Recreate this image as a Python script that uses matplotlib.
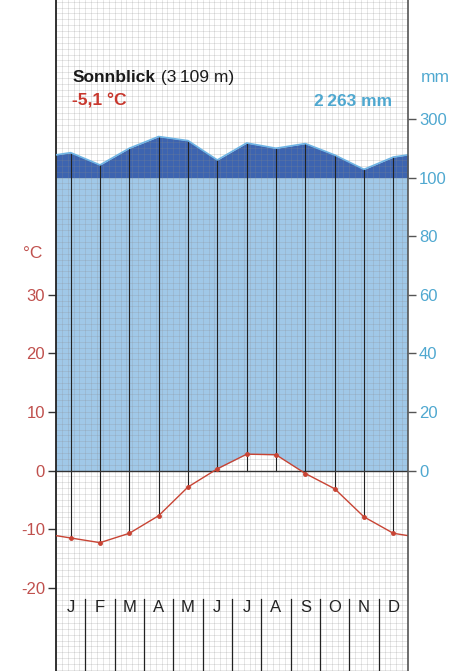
import numpy as np
import matplotlib.pyplot as plt

plt.rcParams['font.family'] = ['Liberation Sans', 'DejaVu Sans']

# Klimadaten Sonnblick
monate = ['J', 'F', 'M', 'A', 'M', 'J', 'J', 'A', 'S', 'O', 'N', 'D']
temperatur = [-11.5, -12.3, -10.7, -7.7, -2.8, 0.3, 2.8, 2.7, -0.5, -3.1, -7.9, -10.7]
niederschlag = [185, 143, 200, 240, 226, 160, 218, 200, 216, 177, 128, 170]
temp_ticks = [-20, -10, 0, 10, 20, 30]
mm_ticks = [0, 20, 40, 60, 80, 100, 300]

ROT = '#c8372d'
ROT_HELL = '#c0504d'
BLAU = '#4fa8d0'
HELLBLAU = '#a0c8e8'
DUNKELBLAU = '#3d64b0'


def skala_mm(p):
    # bis 100 mm: 20 mm = 10 °C, darüber 1/10
    p = np.asarray(p, dtype=float)
    return np.where(p <= 100, p / 2, 50 + (p - 100) / 20)


x = np.arange(12) + 0.5
x_ext = np.concatenate([[0], x, [12]])
t = np.array(temperatur)
t_ext = np.concatenate([[(t[0] + t[-1]) / 2], t, [(t[0] + t[-1]) / 2]])
p = np.array(niederschlag, dtype=float)
p_ext = np.concatenate([[(p[0] + p[-1]) / 2], p, [(p[0] + p[-1]) / 2]])
ps_ext = skala_mm(p_ext)
ps = skala_mm(p)

fig = plt.figure(figsize=(4.58, 6.71), dpi=100)
ax = fig.add_axes([56 / 458, 0, 352 / 458, 1])
ax.set_xlim(0, 12)
ax.set_ylim(-34.2, 80.3)

# Flächen
ax.fill_between(x_ext, 0, np.minimum(ps_ext, 50), color=HELLBLAU, lw=0, zorder=1)
ax.fill_between(x_ext, 50, ps_ext, where=ps_ext > 50, interpolate=True,
                color=DUNKELBLAU, lw=0, zorder=1)
ax.fill_between(x_ext, 0, t_ext, where=t_ext > 0, interpolate=True,
                color='white', lw=0, zorder=1.5)

# feines Raster
for gx in np.arange(0, 12.01, 0.2):
    ax.axvline(gx, color='#8a8a8a', lw=0.5, alpha=0.3, zorder=2)
for gy in np.arange(-34, 81, 1):
    ax.axhline(gy, color='#8a8a8a', lw=0.5, alpha=0.3, zorder=2)

# Monatslinien
for xi, ti, pi in zip(x, t, ps):
    ax.plot([xi, xi], [min(ti, 0), pi], color='#222222', lw=0.8, zorder=3)

ax.plot(x_ext, ps_ext, color='#6fb4e4', lw=1.2, zorder=4)
ax.axhline(0, color='#333333', lw=1, zorder=4)
ax.plot(x_ext, t_ext, color='#c84434', lw=1, zorder=5)
ax.plot(x, t, 'o', color='#c84434', ms=2.5, zorder=5)

# Monatsbeschriftung
for xi, m in zip(x, monate):
    ax.text(xi, -23.3, m, ha='center', va='center', fontsize=12, color='#222222', zorder=6)
for b in range(1, 12):
    ax.plot([b, b], [-21.9, -34.2], color='#222222', lw=0.9, zorder=6)

# Achsen
ax.set_xticks([])
ax.set_yticks(temp_ticks)
ax.set_yticklabels([str(v) for v in temp_ticks], color=ROT_HELL, fontsize=12)
ax.tick_params(axis='y', direction='out', length=6, width=1, color='#333333', pad=2)

ax2 = ax.twinx()
ax2.set_ylim(ax.get_ylim())
ax2.set_yticks(skala_mm(mm_ticks))
ax2.set_yticklabels([str(v) for v in mm_ticks], color=BLAU, fontsize=12)
ax2.tick_params(axis='y', direction='out', length=6, width=1, color='#555555', pad=2)

for a in (ax, ax2):
    a.spines['top'].set_visible(False)
    a.spines['bottom'].set_visible(False)
ax.spines['left'].set_color('#222222')
ax.spines['left'].set_linewidth(1.3)
ax.spines['right'].set_visible(False)
ax2.spines['left'].set_visible(False)
ax2.spines['right'].set_color('#555555')
ax2.spines['right'].set_linewidth(1.2)

# Texte
t1 = ax.text(0.58, 67.1, 'Sonnblick', fontsize=12.5, fontweight='bold', color='#1a1a1a',
             va='center', zorder=7)
ax.annotate(' (3\u2009109 m)', xy=(1, 0), xycoords=t1, va='bottom', fontsize=12.5,
            color='#1a1a1a', zorder=7)
ax.text(0.55, 63.0, '-5,1 °C', fontsize=12.5, fontweight='bold', color=ROT,
        va='center', zorder=7)
ax.text(11.46, 63.0, '2\u2009263 mm', fontsize=12.5, fontweight='bold', color=BLAU,
        ha='right', va='center', zorder=7)
ax.text(1.077, 67.1, 'mm', transform=ax.get_yaxis_transform(), fontsize=12.5,
        color=BLAU, ha='center', va='center')
ax.text(-0.065, 37.1, '°C', transform=ax.get_yaxis_transform(), fontsize=12.5,
        color=ROT_HELL, ha='center', va='center')

fig.savefig('out.png', dpi=100)
